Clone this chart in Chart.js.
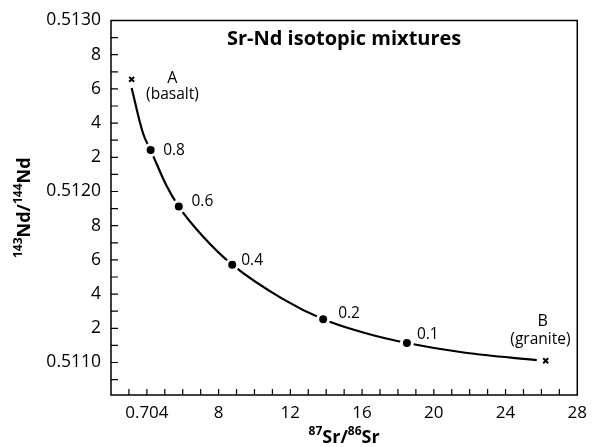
<!DOCTYPE html>
<html><head><meta charset="utf-8">
<script src="https://cdn.jsdelivr.net/npm/chart.js@4/dist/chart.umd.min.js"></script>
<style>html,body{margin:0;padding:0;background:#fff;} #wrap{width:595px;height:447px;}</style>
</head><body><div id="wrap"><canvas id="c" width="595" height="447"></canvas></div>
<script>
// ---- text ----
const chartTitle = 'Sr-Nd isotopic mixtures';
const xTitleParts = [['87', true], ['Sr/', false], ['86', true], ['Sr', false]];
const yTitleParts = [['143', true], ['Nd/', false], ['144', true], ['Nd', false]];

// ---- mixing curve ----
const curveSr = [0.70315, 0.70379, 0.70421, 0.70509, 0.70578, 0.70713, 0.70876, 0.71157, 0.71383, 0.71621, 0.71850, 0.72176, 0.72574];
const curveNd = [0.512605, 0.512339, 0.512242, 0.512035, 0.511912, 0.511737, 0.511572, 0.511372, 0.511253, 0.511171, 0.511114, 0.511057, 0.511014];

// ---- mixing proportions ----
const mixFractions = ['0.8', '0.6', '0.4', '0.2', '0.1'];
const mixSr = [0.70421, 0.70578, 0.70876, 0.71383, 0.71850];
const mixNd = [0.512242, 0.511912, 0.511572, 0.511253, 0.511114];

// ---- end members ----
const endLetters = ['A', 'B'];
const endNames = ['(basalt)', '(granite)'];
const endSr = [0.70315, 0.72624];
const endNd = [0.512656, 0.511010];

// ---- ticks ----
const xTickValues = [0.703,0.704,0.705,0.706,0.707,0.708,0.709,0.710,0.711,0.712,0.713,0.714,0.715,0.716,0.717,0.718,0.719,0.720,0.721,0.722,0.723,0.724,0.725,0.726,0.727];
const xLabelValues = [0.704, 0.708, 0.712, 0.716, 0.720, 0.724, 0.728];
const xLabelTexts = ['0.704', '8', '12', '16', '20', '24', '28'];
const yTickValues = [0.5109,0.5110,0.5111,0.5112,0.5113,0.5114,0.5115,0.5116,0.5117,0.5118,0.5119,0.5120,0.5121,0.5122,0.5123,0.5124,0.5125,0.5126,0.5127,0.5128,0.5129,0.5130];
const yLabelValues = [0.5110, 0.5112, 0.5114, 0.5116, 0.5118, 0.5120, 0.5122, 0.5124, 0.5126, 0.5128, 0.5130];
const yLabelTexts = ['0.5110', '2', '4', '6', '8', '0.5120', '2', '4', '6', '8', '0.5130'];

function labelFor(v, vals, texts) {
  for (let i = 0; i < vals.length; i++) if (Math.abs(vals[i] - v) < 1e-9) return texts[i];
  return '';
}
const FONT = '"Open Sans", "DejaVu Sans", sans-serif';

function drawSup(ctx, parts, cx, baseY, big, small) {
  let w = 0;
  const widths = parts.map(([t, s]) => { ctx.font = `bold ${s ? small : big}px ${FONT}`; const m = ctx.measureText(t).width; w += m; return m; });
  let xx = cx - w / 2;
  ctx.textAlign = 'left'; ctx.textBaseline = 'alphabetic';
  parts.forEach(([t, s], i) => {
    ctx.font = `bold ${s ? small : big}px ${FONT}`;
    ctx.fillText(t, xx, s ? baseY - big * 0.42 : baseY);
    xx += widths[i];
  });
}

const decor = {
  id: 'decor',
  afterDraw(chart) {
    const { ctx, chartArea: a, scales: { x, y } } = chart;
    ctx.save();
    ctx.strokeStyle = '#000'; ctx.fillStyle = '#000';
    ctx.lineWidth = 1.5;
    ctx.strokeRect(a.left, a.top, a.right - a.left, a.bottom - a.top);
    ctx.lineWidth = 1.2;
    ctx.beginPath();
    x.ticks.forEach(t => { const px = x.getPixelForValue(t.value); if (px > a.left + 1 && px < a.right - 1) { ctx.moveTo(px, a.bottom); ctx.lineTo(px, a.bottom - 6); } });
    y.ticks.forEach(t => { const py = y.getPixelForValue(t.value); if (py > a.top + 1 && py < a.bottom - 1) { ctx.moveTo(a.left, py); ctx.lineTo(a.left + 7, py); } });
    ctx.stroke();

    // title inside plot
    ctx.font = `bold 20px ${FONT}`;
    ctx.textAlign = 'center'; ctx.textBaseline = 'alphabetic';
    ctx.fillText(chartTitle, (a.left + a.right) / 2, 45);

    // mixing fraction labels
    const mixOff = [[12.5, 0], [12.7, -5], [9, -4], [15, -5.6], [10, -8.4]];
    ctx.font = `15.5px ${FONT}`;
    ctx.textAlign = 'left'; ctx.textBaseline = 'middle';
    mixFractions.forEach((t, i) => {
      const px = x.getPixelForValue(mixSr[i]), py = y.getPixelForValue(mixNd[i]);
      ctx.fillText(t, px + mixOff[i][0], py + mixOff[i][1]);
    });

    // end-member labels
    const endOff = [[[40.6, -1], [40.8, 15]], [[-3, -39.5], [-5.3, -21.5]]];
    ctx.textAlign = 'center';
    endLetters.forEach((t, i) => {
      const px = x.getPixelForValue(endSr[i]), py = y.getPixelForValue(endNd[i]);
      ctx.font = `16px ${FONT}`;
      ctx.fillText(t, px + endOff[i][0][0], py + endOff[i][0][1]);
      ctx.font = `15.5px ${FONT}`;
      ctx.fillText(endNames[i], px + endOff[i][1][0], py + endOff[i][1][1]);
    });

    // axis titles
    drawSup(ctx, xTitleParts, (a.left + a.right) / 2, 443, 18, 12);
    ctx.save();
    ctx.translate(30, (a.top + a.bottom) / 2);
    ctx.rotate(-Math.PI / 2);
    drawSup(ctx, yTitleParts, 0, 0, 18, 12);
    ctx.restore();
    ctx.restore();
  }
};

new Chart(document.getElementById('c'), {
  type: 'scatter',
  data: {
    datasets: [
      { label: 'mixing proportions', data: mixSr.map((v, i) => ({ x: v, y: mixNd[i] })),
        pointRadius: 5.5, pointHoverRadius: 5.5, backgroundColor: '#000', borderColor: '#fff', borderWidth: 3, order: 1 },
      { label: 'end members', data: endSr.map((v, i) => ({ x: v, y: endNd[i] })),
        pointStyle: 'crossRot', pointRadius: 3.5, pointHoverRadius: 3.5, borderColor: '#000', backgroundColor: '#000', borderWidth: 2, order: 2 },
      { label: 'mixing curve', type: 'line', data: curveSr.map((v, i) => ({ x: v, y: curveNd[i] })),
        showLine: true, borderColor: '#000', borderWidth: 2.2, pointRadius: 0, cubicInterpolationMode: 'monotone', fill: false, order: 3 }
    ]
  },
  options: {
    responsive: false, animation: false, events: [],
    layout: { padding: { left: 0, top: 10, right: 16, bottom: 0 } },
    plugins: { legend: { display: false }, tooltip: { enabled: false }, title: { display: false } },
    scales: {
      x: {
        type: 'linear', min: 0.702, max: 0.728,
        afterBuildTicks: s => { s.ticks = xLabelValues.concat(xTickValues).sort((a, b) => a - b).filter((v, i, arr) => i === 0 || Math.abs(v - arr[i - 1]) > 1e-9).map(v => ({ value: v })); },
        afterFit: s => { s.height = 52; },
        grid: { display: false, drawTicks: false }, border: { display: false },
        ticks: { autoSkip: false, maxRotation: 0, minRotation: 0, padding: 8, color: '#000', font: { family: FONT, size: 17 },
          callback: v => labelFor(v, xLabelValues, xLabelTexts) }
      },
      y: {
        type: 'linear', min: 0.51081, max: 0.5130,
        afterBuildTicks: s => { s.ticks = yTickValues.map(v => ({ value: v })); },
        afterFit: s => { s.width = 111; },
        grid: { display: false, drawTicks: false }, border: { display: false },
        ticks: { autoSkip: false, padding: 10, color: '#000', font: { family: FONT, size: 17.5 },
          callback: v => labelFor(v, yLabelValues, yLabelTexts) }
      }
    }
  },
  plugins: [decor]
});
</script>
</body></html>
